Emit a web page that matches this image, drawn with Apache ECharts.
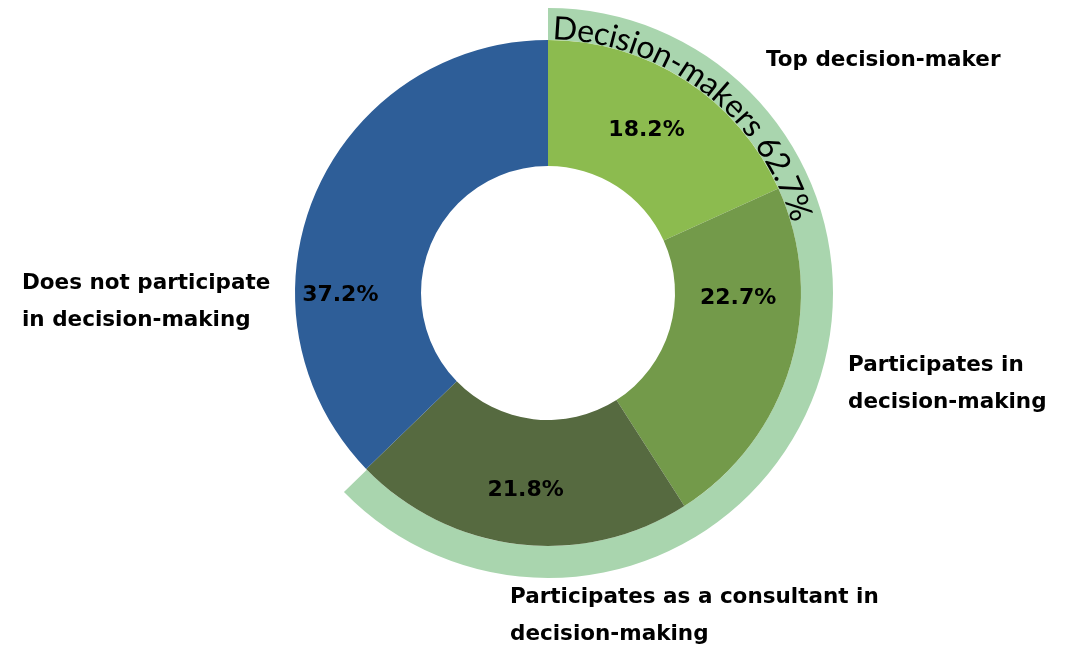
<!DOCTYPE html>
<html>
<head>
<meta charset="utf-8">
<script src="https://cdn.jsdelivr.net/npm/echarts@6/dist/echarts.min.js"></script>
<style>
  html, body { margin: 0; padding: 0; background: #fff; }
  #chart { width: 1077px; height: 650px; }
</style>
</head>
<body>
<div id="chart"></div>
<script>
// 数据
const categories = ['Top decision-maker', 'Participates in\ndecision-making', 'Participates as a consultant in\ndecision-making', 'Does not participate\nin decision-making']
const shares = [18.2, 22.7, 21.8, 37.2]
const groupName = 'Decision-makers'
const groupShare = 62.7

const colors = ['#8cbb4f', '#739a4a', '#566a40', '#2e5e98']
const ringColor = '#a9d5ae'
const cx = 548
const cy = 293
const labelFont = '"DejaVu Sans", sans-serif'

// 标签偏移 (Excel 的标签位置不在扇区中点)
const labelShift = [[-6, 0], [5, -49], [0, 6], [-30, 78]]
// 外部类别标签位置
const namePos = [[766, 60], [848, 384], [510, 616], [22, 302]]

const myEcharts = echarts.init(document.getElementById('chart'))

// 弧形文字: 逐字放在外环上
const arcText = groupName + ' ' + groupShare + '%'
const arcFontSize = 32
const arcFont = arcFontSize + 'px Lato'
const ctx = document.createElement('canvas').getContext('2d')
ctx.font = arcFont
const chars = arcText.split('')
const widths = chars.map(c => ctx.measureText(c).width)
const total = widths.reduce((a, b) => a + b, 0)
const startDeg = 1
const endDeg = 74
const arcR = 264
const span = (endDeg - startDeg) * Math.PI / 180
const arcGraphics = []
let acc = 0
chars.forEach((c, i) => {
  const t = (acc + widths[i] / 2) / total
  acc += widths[i]
  const th = startDeg * Math.PI / 180 + t * span
  arcGraphics.push({
    type: 'text',
    x: cx + arcR * Math.sin(th),
    y: cy - arcR * Math.cos(th),
    rotation: -th,
    z: 100,
    style: {
      text: c,
      font: arcFont,
      fill: '#000',
      align: 'center',
      verticalAlign: 'middle'
    },
    silent: true
  })
})

const nameGraphics = categories.map((name, i) => ({
  type: 'text',
  left: namePos[i][0],
  top: namePos[i][1] - (name.includes('\n') ? 37 : 18),
  z: 100,
  style: {
    text: name,
    font: 'bold 21.5px ' + labelFont,
    fill: '#000',
    lineHeight: 37
  },
  silent: true
}))

const options = {
  backgroundColor: '#fff',
  animation: false,
  graphic: arcGraphics.concat(nameGraphics),
  series: [
    {
      type: 'pie',
      center: [cx, cy],
      radius: [253, 285],
      startAngle: 90,
      silent: true,
      label: { show: false },
      labelLine: { show: false },
      z: 1,
      data: [
        { value: groupShare, name: groupName, itemStyle: { color: ringColor } },
        { value: 100 - groupShare, name: 'rest', itemStyle: { color: 'transparent' } }
      ]
    },
    {
      type: 'pie',
      center: [cx, cy],
      radius: [127, 253],
      startAngle: 90,
      silent: true,
      z: 2,
      itemStyle: { borderWidth: 0 },
      label: {
        show: true,
        position: 'inside',
        formatter: p => p.value.toFixed(1) + '%',
        fontFamily: labelFont,
        fontWeight: 'bold',
        fontSize: 22,
        color: '#000'
      },
      labelLayout: p => ({ dx: labelShift[p.dataIndex][0], dy: labelShift[p.dataIndex][1] }),
      labelLine: { show: false },
      data: shares.map((v, i) => ({ value: v, name: categories[i], itemStyle: { color: colors[i] } }))
    }
  ]
}
myEcharts.setOption(options)
</script>
</body>
</html>
